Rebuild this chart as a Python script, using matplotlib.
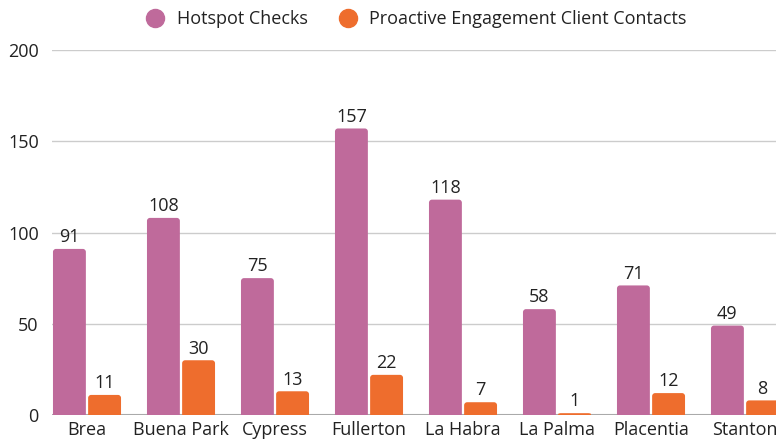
import matplotlib
matplotlib.use("Agg")
import matplotlib.pyplot as plt
from matplotlib.lines import Line2D
from matplotlib.path import Path
from matplotlib.patches import PathPatch
import numpy as np

categories = ["Brea", "Buena Park", "Cypress", "Fullerton", "La Habra", "La Palma", "Placentia", "Stanton"]
hotspot = [91, 108, 75, 157, 118, 58, 71, 49]
proactive = [11, 30, 13, 22, 7, 1, 12, 8]
series_names = ["Hotspot Checks", "Proactive Engagement Client Contacts"]
yticks = [0, 50, 100, 150, 200]

c1 = "#BF6A9B"
c2 = "#EE6D2D"
txt = "#222222"

plt.rcParams['font.family'] = ['Open Sans', 'DejaVu Sans']

fig = plt.figure(figsize=(7.76, 4.41), dpi=100)
W, H = 776, 441
step = 94.0
ax_left = 52
ax_right = 87 + 7.5 * step
ax_bottom, ax_h = 26, 365
ax = fig.add_axes([ax_left / W, ax_bottom / H, (ax_right - ax_left) / W, ax_h / H])

x = np.arange(len(categories))
bw = 0.35
off = 0.187
b1 = ax.bar(x - off, hotspot, bw, color=c1, zorder=3)
b2 = ax.bar(x + off, proactive, bw, color=c2, zorder=3)

ax.set_xlim(-(87 - ax_left) / step, len(categories) - 0.5)
ax.set_ylim(0, 200)

# rounded top corners (radius in px converted to data units)
rpx = 3.0
rx = rpx / step
ry = rpx / (ax_h / 200.0)
k = 0.5523
for bars in (b1, b2):
    for r in bars:
        x0, w, h = r.get_x(), r.get_width(), r.get_height()
        x1 = x0 + w
        ryy = min(ry, h / 2)
        verts = [(x0, 0), (x0, h - ryy),
                 (x0, h - ryy + k * ryy), (x0 + rx - k * rx, h), (x0 + rx, h),
                 (x1 - rx, h),
                 (x1 - rx + k * rx, h), (x1, h - ryy + k * ryy), (x1, h - ryy),
                 (x1, 0), (x0, 0)]
        codes = [Path.MOVETO, Path.LINETO,
                 Path.CURVE4, Path.CURVE4, Path.CURVE4,
                 Path.LINETO,
                 Path.CURVE4, Path.CURVE4, Path.CURVE4,
                 Path.LINETO, Path.CLOSEPOLY]
        ax.add_patch(PathPatch(Path(verts, codes), facecolor=r.get_facecolor(),
                               edgecolor="none", zorder=3))
        r.set_visible(False)

fs = 13
for bars, vals in ((b1, hotspot), (b2, proactive)):
    for r, v in zip(bars, vals):
        ax.text(r.get_x() + r.get_width() / 2, v + 1.5, str(v), ha="center", va="bottom",
                fontsize=fs, color=txt, zorder=4)

ax.set_yticks(yticks)
ax.set_xticks(x)
ax.set_xticklabels(categories)
ax.tick_params(axis="both", length=0, labelsize=fs, colors=txt)
ax.tick_params(axis="y", pad=9.5)
ax.tick_params(axis="x", pad=4)
for s in ax.spines.values():
    s.set_visible(False)
ax.grid(axis="y", color="#cccccc", linewidth=1, zorder=0)
ax.axhline(0, color="#aaaaaa", linewidth=1.5, zorder=2)

handles = [Line2D([], [], marker="o", linestyle="", markersize=13, color=c1),
           Line2D([], [], marker="o", linestyle="", markersize=13, color=c2)]
fig.legend(handles, series_names, loc="center", bbox_to_anchor=(412 / W, 1 - 19 / H),
           ncol=2, frameon=False, fontsize=fs, handletextpad=0.2, columnspacing=1.2,
           labelcolor=txt)

fig.savefig("out.png", dpi=100)
